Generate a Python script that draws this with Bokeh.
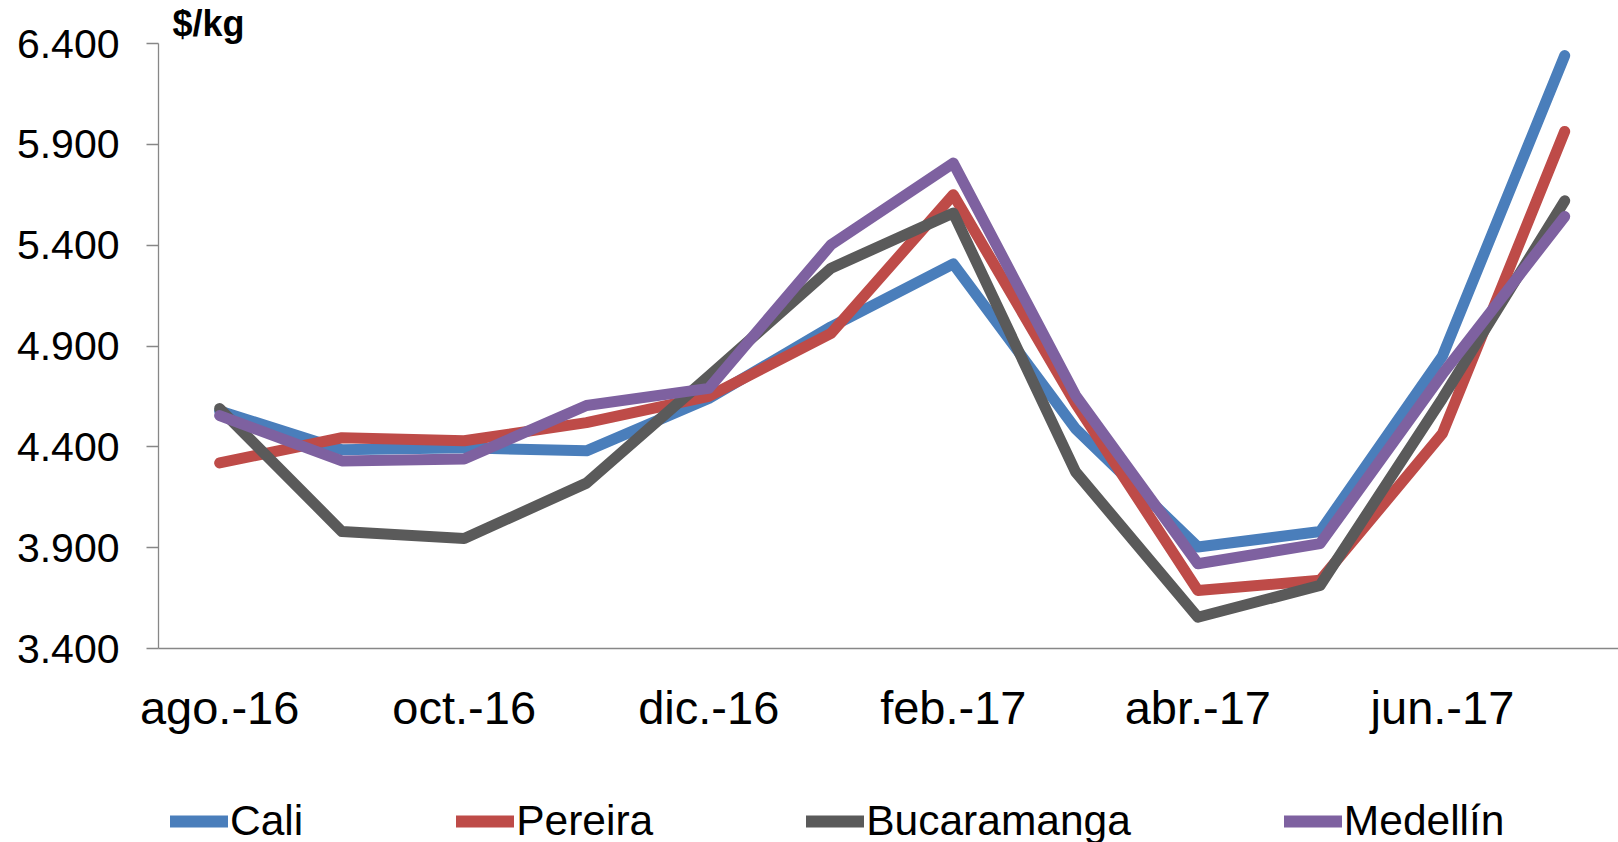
from bokeh.plotting import figure
from bokeh.layouts import column
from bokeh.models import Legend, LegendItem, FixedTicker, Range1d, Title
from bokeh.embed import file_html
from bokeh.resources import INLINE

months = ["ago.-16", "sep.-16", "oct.-16", "nov.-16", "dic.-16", "ene.-17",
          "feb.-17", "mar.-17", "abr.-17", "may.-17", "jun.-17", "jul.-17"]
cali = [4578, 4385, 4395, 4380, 4640, 4995, 5307, 4490, 3903, 3980, 4850, 6340]
pereira = [4320, 4445, 4430, 4520, 4650, 4963, 5650, 4615, 3688, 3738, 4466, 5964]
bucaramanga = [4590, 3980, 3945, 4220, 4750, 5286, 5559, 4276, 3555, 3713, 4640, 5620]
medellin = [4555, 4330, 4340, 4605, 4690, 5402, 5807, 4655, 3820, 3920, 4760, 5542]

series_names = ["Cali", "Pereira", "Bucaramanga", "Medellín"]
series_values = [cali, pereira, bucaramanga, medellin]
series_colors = ["#4A7EBB", "#BE4B48", "#5A5A5A", "#7E61A0"]

y_ticks = [3400, 3900, 4400, 4900, 5400, 5900, 6400]
y_tick_labels = ["3.400", "3.900", "4.400", "4.900", "5.400", "5.900", "6.400"]
x_tick_idx = [0, 2, 4, 6, 8, 10]
unit_label = "$/kg"

FONT = "Liberation Sans"
AXIS_COLOR = "#878787"
LW = 11

p = figure(width=1618, height=770, output_backend="svg", toolbar_location=None,
           x_range=Range1d(-0.5, 11.44), y_range=Range1d(3400, 6400),
           min_border_left=158, min_border_right=0, min_border_top=43,
           min_border_bottom=122)
p.outline_line_color = None
p.xgrid.visible = False
p.ygrid.visible = False

xs = list(range(len(months)))
for name, vals, col in zip(series_names, series_values, series_colors):
    p.line(xs, vals, line_color=col, line_width=LW, line_join="round", line_cap="round")

# y axis
p.yaxis.ticker = FixedTicker(ticks=y_ticks)
p.yaxis.major_label_overrides = {t: l for t, l in zip(y_ticks, y_tick_labels)}
p.yaxis.major_tick_in = 0
p.yaxis.major_tick_out = 12
p.yaxis.minor_tick_line_color = None
p.yaxis.axis_line_color = AXIS_COLOR
p.yaxis.major_tick_line_color = AXIS_COLOR
p.yaxis.axis_line_width = 1.3
p.yaxis.major_tick_line_width = 1.3
p.yaxis.major_label_text_font = FONT
p.yaxis.major_label_text_font_size = "41px"
p.yaxis.major_label_text_color = "black"
p.yaxis.major_label_standoff = 27

# x axis
p.xaxis.ticker = FixedTicker(ticks=x_tick_idx)
p.xaxis.major_label_overrides = {i: months[i] for i in x_tick_idx}
p.xaxis.major_tick_in = 0
p.xaxis.major_tick_out = 0
p.xaxis.minor_tick_line_color = None
p.xaxis.axis_line_color = AXIS_COLOR
p.xaxis.axis_line_width = 1.3
p.xaxis.major_label_text_font = FONT
p.xaxis.major_label_text_font_size = "47px"
p.xaxis.major_label_text_color = "black"
p.xaxis.major_label_standoff = 32

# unit label above the plot area
p.add_layout(Title(text=unit_label, align="left", offset=14, standoff=0,
                   text_font=FONT, text_font_style="bold", text_font_size="36px",
                   text_color="black"), "above")

# legend strip (frame aligned with the main plot's frame)
leg = figure(width=1618, height=72, output_backend="svg", toolbar_location=None,
             x_range=Range1d(0, 1460), y_range=Range1d(0, 72),
             x_axis_type=None, y_axis_type=None,
             min_border_left=158, min_border_right=0, min_border_top=0, min_border_bottom=0)
leg.outline_line_color = None
leg.xgrid.visible = False
leg.ygrid.visible = False
leg_renderers = []
for name, col in zip(series_names, series_colors):
    # proxy renderers lying outside the visible range, used only for legend swatches
    leg_renderers.append(leg.line([-100, -50], [-100, -100], line_color=col,
                                  line_width=12, line_cap="round"))

legend = Legend(items=[LegendItem(label=n, renderers=[r]) for n, r in zip(series_names, leg_renderers)],
                orientation="horizontal", location=(12, -3),
                glyph_width=58, glyph_height=20, label_standoff=2, spacing=153,
                padding=0, margin=0, border_line_color=None, background_fill_alpha=0,
                label_text_font=FONT, label_text_font_size="42.5px", label_text_color="black")
leg.add_layout(legend, "center")

layout = column(p, leg, spacing=0)
open("out.html", "w").write(file_html(layout, INLINE))
